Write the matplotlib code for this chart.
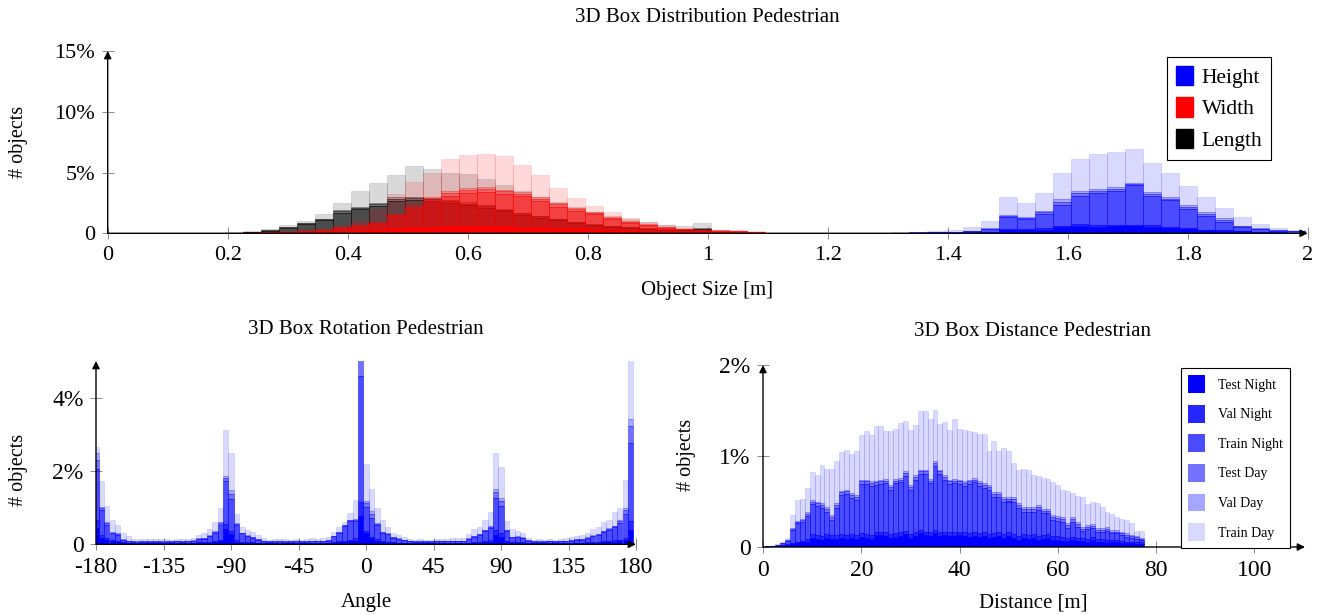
import matplotlib
matplotlib.use("Agg")
import matplotlib.pyplot as plt
from matplotlib.patches import Patch
import numpy as np

plt.rcParams['font.family'] = ['Liberation Serif', 'DejaVu Serif']
plt.rcParams['axes.unicode_minus'] = False

W, H = 1317, 615

layer_names = ["Test Night", "Val Night", "Train Night", "Test Day", "Val Day", "Train Day"]
layer_alpha = [1.0, 0.85, 0.7, 0.55, 0.35, 0.15]

# ---------------- object size [%], bins of 0.03 m ----------------
size_bin = 0.03
length_centers = np.round(0.12 + size_bin * np.arange(32), 2)
width_centers = np.round(0.18 + size_bin * np.arange(33), 2)
height_centers = np.round(1.20 + size_bin * np.arange(27), 2)

len_test_night = [0, .01, .01, .01, .02, .03, .05, .07, .1, .13, .16, .18, .2, .2, .2, .19, .18, .17, .15, .13, .11, .1, .08, .07, .06, .05, .04, .03, .03, .04, .01, .01]
len_val_night = [0, 0, 0, .01, .01, .01, .02, .03, .04, .05, .06, .07, .08, .08, .08, .08, .07, .07, .06, .05, .05, .04, .03, .03, .02, .02, .02, .01, .01, .02, .01, 0]
len_train_night = [.01, .01, .02, .03, .06, .19, .38, .66, .94, 1.52, 1.78, 2.0, 2.37, 2.42, 2.34, 2.21, 2.05, 1.83, 1.59, 1.35, 1.14, .94, .75, .58, .46, .38, .3, .24, .22, .3, .08, .02]
len_test_day = [0, 0, 0, .01, .01, .01, .03, .05, .07, .12, .12, .15, .18, .18, .17, .16, .15, .14, .12, .1, .09, .07, .05, .04, .04, .03, .02, .02, .02, .02, .01, 0]
len_val_day = [0, 0, 0, 0, 0, .01, .02, .04, .05, .08, .08, .1, .12, .12, .11, .11, .1, .09, .08, .07, .06, .05, .04, .03, .02, .02, .02, .02, .02, .02, .01, .01]
len_train_day = [.01, .01, .02, .04, .06, .1, .15, .2, .4, .6, 1.3, 1.6, 1.85, 2.55, 2.4, 2.25, 2.35, 2.2, 2.0, 1.8, 1.55, 1.4, 1.25, 1.0, .8, .7, .55, .38, .3, .42, .18, .04]

wid_test_night = [.01, .01, .02, .03, .04, .06, .1, .15, .22, .28, .36, .4, .44, .48, .48, .5, .48, .44, .4, .36, .32, .28, .24, .2, .16, .12, .1, .08, .08, .06, .04, .01, .01]
wid_val_night = [0, 0, .01, .01, .01, .02, .03, .04, .05, .07, .09, .1, .11, .12, .12, .12, .12, .11, .1, .09, .08, .07, .06, .05, .04, .03, .02, .02, .02, .02, .01, .01, 0]
wid_train_night = [.01, .02, .02, .03, .06, .09, .14, .24, .35, .45, .99, 1.52, 2.1, 2.5, 2.75, 2.78, 2.64, 2.5, 2.15, 1.75, 1.45, 1.2, .9, .63, .45, .3, .2, .15, .12, .1, .06, .02, .01]
wid_test_day = [0, 0, 0, .01, .01, .01, .02, .03, .04, .06, .09, .17, .21, .21, .24, .24, .22, .21, .21, .18, .15, .12, .09, .07, .06, .03, .02, .02, .01, .01, .01, 0, 0]
wid_val_day = [0, 0, 0, 0, .01, .01, .01, .02, .03, .04, .07, .11, .14, .14, .16, .16, .14, .14, .14, .12, .1, .08, .06, .05, .04, .02, .01, .01, .01, .01, 0, 0, 0]
wid_train_day = [.01, .02, .03, .04, .07, .11, .15, .22, .41, 1.1, 1.6, 1.9, 2.0, 2.65, 2.7, 2.7, 2.77, 2.23, 1.8, 1.2, .78, .5, .43, .3, .2, .2, .1, .07, .06, .05, .03, .01, 0]

hgt_test_night = [.01, .01, .01, .01, .02, .02, .03, .04, .06, .1, .27, .27, .3, .5, .63, .55, .6, .6, .55, .45, .35, .25, .2, .15, .1, .06, .05]
hgt_val_night = [0, 0, .01, .01, .01, .01, .01, .02, .03, .04, .08, .06, .1, .1, .12, .1, .1, .12, .1, .1, .1, .05, .05, .05, .02, .02, .01]
hgt_train_night = [.01, .01, .01, .02, .02, .03, .04, .05, .09, .22, 1.02, .85, 1.19, 1.73, 2.32, 2.65, 2.74, 3.28, 2.42, 2.15, 1.53, 1.13, .71, .29, .21, .14, .1]
hgt_test_day = [0, 0, 0, 0, 0, .01, .01, .01, .01, .02, .08, .08, .17, .28, .25, .2, .2, .07, .19, .16, .21, .18, .17, .07, .05, .03, .02]
hgt_val_day = [0, 0, 0, 0, 0, 0, .01, 0, .01, .02, .05, .06, .11, .19, .16, .13, .13, .05, .12, .11, .14, .12, .11, .04, .03, .02, .02]
hgt_train_day = [.01, .02, .02, .02, .03, .03, .05, .13, .29, .61, 1.52, 1.2, 1.48, 2.15, 2.62, 2.87, 2.96, 2.8, 2.44, 2.03, 1.57, 1.24, .82, .72, .36, .14, .07]

# ---------------- rotation [%], bins of 3.6 deg ----------------
rot_bin = 3.6
rot_centers = -180 + rot_bin * np.arange(101)
rot_test_night = [
    .45, .16, .12, .08, .06, .04, .03, .02, .02, .02,
    .02, .02, .02, .02, .02, .02, .02, .02, .03, .03,
    .03, .04, .05, .08, .43, .28, .07, .04, .04, .03,
    .03, .02, .02, .02, .02, .02, .02, .02, .02, .02,
    .02, .02, .02, .03, .04, .05, .06, .08, .1, .78,
    .3, .16, .1, .06, .05, .03, .03, .03, .02, .02,
    .02, .02, .02, .02, .02, .02, .02, .02, .02, .03,
    .04, .04, .05, .07, .25, .2, .06, .04, .04, .03,
    .02, .02, .02, .02, .02, .02, .02, .02, .02, .03,
    .03, .03, .04, .04, .05, .06, .07, .08, .12, .4,
    0]
rot_val_night = [
    .2, .09, .05, .04, .04, .02, .01, .01, .01, .01,
    .01, .01, .01, .01, .01, .01, .01, .01, .01, .02,
    .02, .02, .03, .04, .12, .08, .04, .03, .02, .02,
    .01, .01, .01, .01, .01, .01, .01, .01, .01, .01,
    .01, .01, .01, .01, .02, .03, .04, .05, .06, .38,
    .05, .05, .04, .03, .02, .02, .01, .01, .01, .01,
    .01, .01, .01, .01, .01, .01, .01, .01, .01, .01,
    .02, .02, .03, .04, .14, .1, .03, .02, .02, .02,
    .01, .01, .01, .01, .01, .01, .01, .01, .01, .01,
    .01, .02, .02, .02, .03, .03, .04, .05, .06, .24,
    0]
rot_train_night = [
    1.4, .68, .36, .18, .15, .06, .04, .04, .04, .04,
    .04, .04, .04, .04, .04, .05, .04, .05, .05, .09,
    .1, .16, .22, .42, 1.18, .88, .42, .23, .17, .13,
    .09, .06, .04, .04, .05, .04, .04, .05, .04, .04,
    .05, .05, .05, .06, .16, .24, .4, .5, .48, 3.43,
    .67, .51, .38, .22, .2, .13, .1, .08, .05, .04,
    .04, .04, .04, .05, .05, .05, .05, .05, .06, .1,
    .14, .2, .27, .34, .86, .75, .27, .13, .14, .12,
    .07, .04, .04, .04, .05, .04, .05, .05, .07, .09,
    .09, .12, .16, .2, .26, .3, .35, .45, .66, 2.11,
    0]
rot_test_day = [
    .25, .05, .04, .02, .04, .01, .01, .01, .01, .01,
    .01, .01, .01, .01, .01, .01, .01, .01, .01, .01,
    .02, .02, .03, .04, .08, .14, .02, .01, .01, .01,
    .01, .01, .01, .01, .01, .01, .01, .01, .01, .01,
    .01, .01, .01, .01, .01, .01, .02, .02, .02, .8,
    .1, .12, .03, .02, .02, .01, .01, .01, .01, .01,
    .01, .01, .01, .01, .01, .01, .01, .01, .01, .01,
    .02, .02, .03, .03, .17, .13, .02, .01, .01, .01,
    .01, .01, .01, .01, .01, .01, .01, .01, .01, .01,
    .01, .01, .02, .02, .02, .03, .03, .05, .1, .49,
    0]
rot_val_day = [
    .2, .04, .03, .02, .03, .01, 0, 0, 0, 0,
    0, 0, 0, 0, 0, 0, 0, 0, .01, .01,
    .01, .01, .02, .03, .05, .1, .02, .01, .01, .01,
    0, 0, 0, 0, 0, 0, 0, 0, 0, 0,
    0, 0, 0, 0, .01, .01, .01, .01, .02, .4,
    .07, .08, .02, .01, .01, .01, .01, 0, 0, 0,
    0, 0, 0, 0, 0, 0, .01, .01, 0, .01,
    .01, .01, .01, .02, .1, .09, .01, .01, .01, .01,
    0, 0, 0, 0, 0, 0, 0, .01, .01, .01,
    .01, .01, .01, .01, .01, .02, .02, .04, .06, .19,
    0]
rot_train_day = [
    .16, .71, .44, .32, .21, .16, .14, .07, .07, .06,
    .07, .06, .06, .07, .05, .05, .06, .06, .07, .09,
    .14, .16, .27, .37, 1.27, 1.02, .27, .16, .14, .14,
    .11, .08, .05, .06, .05, .06, .05, .06, .05, .06,
    .07, .06, .07, .09, .1, .14, .09, .2, .53, .4,
    1.0, .58, .43, .32, .17, .1, .09, .07, .06, .05,
    .06, .05, .05, .06, .06, .06, .06, .06, .08, .12,
    .18, .17, .27, .37, .98, .85, .25, .2, .15, .13,
    .07, .05, .06, .05, .06, .05, .06, .06, .08, .08,
    .1, .13, .16, .19, .25, .22, .38, .33, .75, 1.87,
    0]

# ---------------- distance [%], bins of 1 m (1..90 m) ----------------
dist_centers = np.arange(1, 91)
dist_test_night = [
    .005, .008, .012, .015, .02, .03, .04, .05, .06, .1,
    .09, .08, .1, .09, .09, .1, .09, .1, .09, .11,
    .1, .09, .13, .13, .12, .1, .11, .12, .14, .1,
    .12, .15, .13, .12, .15, .12, .13, .12, .12, .13,
    .12, .11, .12, .11, .12, .1, .11, .12, .1, .12,
    .1, .08, .1, .09, .1, .08, .09, .1, .08, .08,
    .07, .07, .08, .07, .07, .06, .08, .06, .06, .05,
    .05, .05, .04, .04, .04, .03, .03, .004, .003, .004,
    .003, .004, .003, .003, .004, .003, .003, .004, .003, .002]
dist_val_night = [
    0, .002, .003, .005, .008, .01, .015, .02, .025, .04,
    .04, .04, .04, .04, .04, .04, .04, .04, .04, .04,
    .04, .04, .04, .04, .04, .04, .04, .04, .04, .04,
    .04, .04, .04, .04, .04, .04, .04, .04, .04, .04,
    .04, .04, .04, .04, .04, .04, .04, .04, .04, .04,
    .04, .04, .04, .04, .04, .04, .04, .04, .04, .04,
    .04, .03, .03, .03, .03, .03, .03, .03, .03, .03,
    .03, .03, .03, .02, .02, .02, .02, 0, 0, 0,
    0, 0, 0, 0, 0, 0, 0, 0, 0, 0]
dist_train_night = [
    .005, .002, .008, .02, .042, .15, .21, .21, .26, .33,
    .32, .31, .25, .17, .3, .43, .45, .4, .39, .54,
    .55, .54, .51, .52, .54, .49, .55, .55, .6, .49,
    .58, .61, .63, .54, .7, .64, .57, .53, .54, .52,
    .51, .54, .55, .52, .49, .49, .4, .39, .36, .34,
    .36, .31, .25, .26, .25, .29, .24, .23, .18, .17,
    .17, .11, .17, .12, .08, .11, .1, .08, .08, .1,
    .07, .07, .06, .05, .04, .04, .03, 0, 0, 0,
    0, 0, 0, 0, 0, 0, 0, 0, 0, 0]
dist_test_day = [
    0, 0, .001, .003, .006, .012, .015, .02, .02, .03,
    .03, .03, .03, .03, .03, .03, .03, .03, .03, .03,
    .03, .03, .03, .03, .03, .03, .03, .03, .03, .03,
    .03, .03, .03, .03, .03, .03, .03, .03, .03, .03,
    .03, .03, .03, .03, .03, .03, .03, .03, .03, .03,
    .03, .03, .03, .03, .03, .03, .03, .03, .03, .03,
    .03, .03, .03, .03, .02, .02, .02, .02, .02, .02,
    .02, .02, .02, .02, .02, .02, .01, 0, 0, 0,
    0, 0, 0, 0, 0, 0, 0, 0, 0, 0]
dist_val_day = [
    0, 0, .001, .002, .004, .008, .01, .01, .015, .02,
    .02, .02, .02, .02, .02, .02, .02, .02, .02, .02,
    .02, .02, .02, .02, .02, .02, .02, .02, .02, .02,
    .02, .02, .02, .02, .02, .02, .02, .02, .02, .02,
    .02, .02, .02, .02, .02, .02, .02, .02, .02, .02,
    .02, .02, .02, .02, .02, .02, .02, .02, .02, .02,
    .02, .02, .02, .02, .02, .02, .02, .02, .02, .02,
    .02, .02, .02, .02, .01, .01, .01, 0, 0, 0,
    0, 0, 0, 0, 0, 0, 0, 0, 0, 0]
dist_train_day = [
    0, .003, .008, .014, .02, .14, .23, .22, .265, .3,
    .29, .42, .42, .51, .46, .42, .44, .43, .48, .49,
    .54, .51, .6, .59, .52, .6, .55, .6, .56, .61,
    .55, .65, .64, .66, .57, .5, .58, .55, .66, .56,
    .57, .53, .5, .52, .54, .38, .57, .46, .54, .5,
    .37, .37, .42, .41, .35, .32, .34, .33, .36, .34,
    .3, .35, .26, .29, .33, .23, .24, .27, .23, .16,
    .17, .14, .14, .15, .13, .06, .08, 0, 0, 0,
    0, 0, 0, 0, 0, 0, 0, 0, 0, 0]


def stack(ax, x, layers, width, color):
    bottom = np.zeros(len(x))
    for vals, a in zip(layers, layer_alpha):
        vals = np.asarray(vals, dtype=float)
        ax.bar(x, vals, width=width, bottom=bottom, color=color, alpha=a,
               edgecolor=color, linewidth=0.5, align='center', zorder=2)
        bottom += vals


def px_axes(l, t, r, b):
    return fig.add_axes([l / W, 1 - b / H, (r - l) / W, (b - t) / H])


def style(ax, size):
    for s in ax.spines.values():
        s.set_visible(False)
    ax.tick_params(direction='inout', length=8, width=0.7, color='#8a8a8a',
                   labelsize=size, pad=5)
    arrow = dict(arrowstyle='-|>', lw=1.0, color='black', shrinkA=0, shrinkB=0,
                 mutation_scale=11)
    ax.annotate('', xy=(1, 0), xytext=(0, 0), xycoords='axes fraction',
                arrowprops=arrow, annotation_clip=False, zorder=6)
    ax.annotate('', xy=(0, 1), xytext=(0, 0), xycoords='axes fraction',
                arrowprops=arrow, annotation_clip=False, zorder=6)


def ftext(x, y, s, size, rot=0):
    fig.text(x / W, 1 - y / H, s, fontsize=size, rotation=rot, ha='center', va='center')


fig = plt.figure(figsize=(W / 100, H / 100), dpi=100)

# top: object size
ax = px_axes(107.7, 51, 1307.7, 233.3)
stack(ax, length_centers, [len_test_night, len_val_night, len_train_night,
                           len_test_day, len_val_day, len_train_day], size_bin, 'black')
stack(ax, width_centers, [wid_test_night, wid_val_night, wid_train_night,
                          wid_test_day, wid_val_day, wid_train_day], size_bin, 'red')
stack(ax, height_centers, [hgt_test_night, hgt_val_night, hgt_train_night,
                           hgt_test_day, hgt_val_day, hgt_train_day], size_bin, 'blue')
ax.set_xlim(0, 2)
ax.set_ylim(0, 15)
ax.set_xticks(np.arange(0, 2.01, 0.2))
ax.set_xticklabels(['0', '0.2', '0.4', '0.6', '0.8', '1', '1.2', '1.4', '1.6', '1.8', '2'])
ax.set_yticks([0, 5, 10, 15])
ax.set_yticklabels(['0', '5%', '10%', '15%'])
style(ax, 16)
leg = ax.legend([Patch(facecolor=c, edgecolor=c) for c in ['blue', 'red', 'black']],
                ['Height', 'Width', 'Length'], loc='upper left',
                bbox_to_anchor=(0.883, 0.967), fontsize=15.5, fancybox=False,
                edgecolor='black', framealpha=1, handlelength=0.8, handleheight=1.0,
                handletextpad=0.4, labelspacing=0.45, borderpad=0.4, borderaxespad=0)
leg.get_frame().set_linewidth(0.8)
leg.set_zorder(10)

# bottom left: rotation
ax = px_axes(96, 361, 636, 544.3)
stack(ax, rot_centers, [rot_test_night, rot_val_night, rot_train_night,
                        rot_test_day, rot_val_day, rot_train_day], rot_bin, 'blue')
ax.set_xlim(-180, 180)
ax.set_ylim(0, 5)
ax.set_xticks(np.arange(-180, 181, 45))
ax.set_yticks([0, 2, 4])
ax.set_yticklabels(['0', '2%', '4%'])
style(ax, 17)

# bottom right: distance
ax = px_axes(763, 365, 1305, 547)
stack(ax, dist_centers, [dist_test_night, dist_val_night, dist_train_night,
                         dist_test_day, dist_val_day, dist_train_day], 1.0, 'blue')
ax.set_xlim(0, 110.3)
ax.set_ylim(0, 2)
ax.set_xticks(np.arange(0, 101, 20))
ax.set_yticks([0, 1, 2])
ax.set_yticklabels(['0', '1%', '2%'])
style(ax, 17)
leg = ax.legend([Patch(facecolor='blue', alpha=a, edgecolor='none') for a in layer_alpha],
                layer_names, loc='upper left', bbox_to_anchor=(0.771, 0.983),
                fontsize=10, fancybox=False, edgecolor='black', framealpha=1,
                handlelength=1.25, handleheight=1.6, handletextpad=0.9,
                labelspacing=0.85, borderpad=0.5, borderaxespad=0)
leg.get_frame().set_linewidth(0.8)
leg.set_zorder(10)

# titles and axis labels
ftext(707, 18, '3D Box Distribution Pedestrian', 15)
ftext(707, 290, 'Object Size [m]', 15)
ftext(18, 142, '# objects', 14.5, 90)
ftext(366, 329, '3D Box Rotation Pedestrian', 15)
ftext(366, 603, 'Angle', 15)
ftext(18, 470, '# objects', 14.5, 90)
ftext(1033, 332, '3D Box Distance Pedestrian', 15)
ftext(1033, 603, 'Distance [m]', 15)
ftext(686, 455, '# objects', 14.5, 90)

fig.savefig('out.png', dpi=100)
